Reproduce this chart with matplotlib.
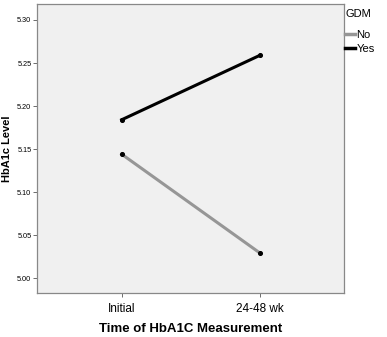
import matplotlib
matplotlib.use("Agg")
import matplotlib.pyplot as plt

plt.rcParams["font.family"] = ["Liberation Sans", "DejaVu Sans"]

# data
time_points = ["Initial", "24-48 wk"]
gdm_no = [5.144, 5.029]
gdm_yes = [5.184, 5.259]
y_ticks = [5.00, 5.05, 5.10, 5.15, 5.20, 5.25, 5.30]

fig = plt.figure(figsize=(3.87, 3.37), dpi=100)
fig.patch.set_facecolor("white")
ax = fig.add_axes([37 / 387, 1 - 293 / 337, 307 / 387, 289 / 337])
ax.set_facecolor("#f0f0f0")

x = range(len(time_points))
ax.plot(x, gdm_no, color="#969696", linewidth=2.2, label="No", zorder=2)
ax.plot(x, gdm_yes, color="black", linewidth=2.2, label="Yes", zorder=2)
ax.scatter(x, gdm_no, color="black", s=7, zorder=3)
ax.scatter(x, gdm_yes, color="black", s=7, zorder=3)

ax.set_xlim(-0.612, 1.607)
ax.set_ylim(4.9826, 5.3186)
ax.set_xticks(list(x))
ax.set_xticklabels(time_points, fontsize=8.5)
ax.set_yticks(y_ticks)
ax.set_yticklabels([f"{v:.2f}" for v in y_ticks], fontsize=5.3)
ax.tick_params(axis="y", length=3, width=0.6, pad=1, color="#555555")
ax.tick_params(axis="x", length=3, width=0.6, pad=4, color="#555555")

for s in ax.spines.values():
    s.set_color("#888888")
    s.set_linewidth(0.9)

ax.set_xlabel("Time of HbA1C Measurement", fontsize=9.5, fontweight="bold", labelpad=6)
ax.set_ylabel("HbA1c Level", fontsize=8, fontweight="bold", labelpad=4)

leg = fig.legend(
    loc="upper left",
    bbox_to_anchor=(343 / 387, 1 - 7 / 337),
    title="GDM",
    fontsize=8,
    title_fontsize=8,
    frameon=False,
    handlelength=0.9,
    handletextpad=0.1,
    labelspacing=0.35,
    borderaxespad=0,
    borderpad=0.2,
)
leg._legend_box.align = "left"
leg._legend_box.sep = 8
for h in leg.get_lines():
    h.set_linewidth(2.5)

fig.savefig("out.png", dpi=100)
